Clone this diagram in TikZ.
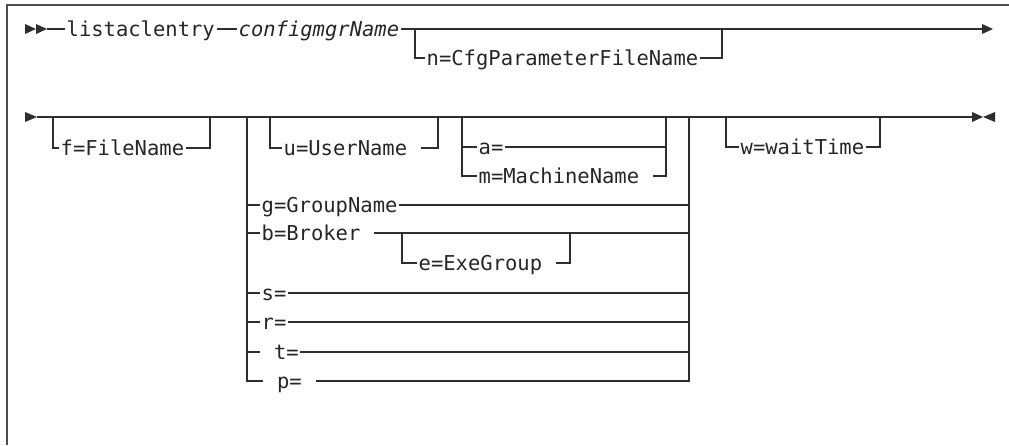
\documentclass[tikz,border=0pt]{standalone}
\usepackage{fontspec}
\newfontfamily\syntaxfont{DejaVu Sans Mono}
\colorlet{rail}{black!82}
\tikzset{
  opt/.style={font=\syntaxfont\fontsize{20.5pt}{24pt}\selectfont, text=black!85,
    inner xsep=1.5pt, inner ysep=0pt, text height=14pt, text depth=0pt, anchor=west},
  railline/.style={draw=rail, line width=1.2pt},
}
\begin{document}
\begin{tikzpicture}[x=1pt, y=-1pt]
		\useasboundingbox (0,0) rectangle (1009,445);

		% Draw the frame
		\draw[black!70, line width=1.6pt] (1009,5) -- (7,5) -- (7,445);

		% First row: command and config manager
		\fill[rail] (25,24) -- (36,29) -- (25,34) -- cycle;
		\fill[rail] (36,24) -- (47,29) -- (36,34) -- cycle;
		\coordinate (start1) at (47,29);
		\coordinate (end1) at (982,29);
		\fill[rail] (982,24) -- (993,29) -- (982,34) -- cycle;
		\node[opt] (cmd) at (65,29) {listaclentry};
		\node[opt] (cfg) at (237,29) {\itshape configmgrName};
		\draw[railline] (start1) -- (cmd.west);
		\draw[railline] (cmd.east) -- (cfg.west);
		\draw[railline] (cfg.east) -- (end1);

		% Optional parameter file
		\coordinate (nL) at (415,29);
		\coordinate (nR) at (722,29);
		\node[opt] (n) at (425,58) {n=CfgParameterFileName};
		\draw[railline] (nL) |- (n.west);
		\draw[railline] (n.east) -| (nR);

		% Second row
		\fill[rail] (25,112) -- (37,117) -- (25,122) -- cycle;
		\coordinate (start2) at (37,117);
		\coordinate (end2) at (972,117);
		\draw[railline] (start2) -- (end2);
		\fill[rail] (972,112) -- (983,117) -- (972,122) -- cycle;
		\fill[rail] (995,112) -- (983,117) -- (995,122) -- cycle;

		% Optional file name
		\coordinate (fL) at (53,117);
		\coordinate (fR) at (210,117);
		\node[opt] (f) at (59,148) {f=FileName};
		\draw[railline] (fL) |- (f.west);
		\draw[railline] (f.east) -| (fR);

		% Group of choices
		\coordinate (grpL) at (247,117);
		\coordinate (grpR) at (689,117);
		\node[opt] (g) at (260,205) {g=GroupName};
		\node[opt] (b) at (260,233) {b=Broker\phantom{x}};
		\node[opt] (s) at (260,293) {s=};
		\node[opt] (r) at (260,322) {r=};
		\node[opt] (t) at (260,352) {\phantom{x}t=};
		\node[opt] (p) at (263,381) {\phantom{x}p=\phantom{x}};
		\draw[railline] (grpL) |- (p.west);
		\draw[railline] (p.east) -| (grpR);
		\foreach \row in {g,b,s,r,t} {
				\draw[railline] (grpL |- \row.west) -- (\row.west);
				\draw[railline] (\row.east) -- (grpR |- \row.east);
			}

		% User name
		\coordinate (uL) at (270,117);
		\coordinate (uR) at (438,117);
		\node[opt] (u) at (282,148) {u=UserName\phantom{x}};
		\draw[railline] (uL) |- (u.west);
		\draw[railline] (u.east) -| (uR);

		% All or machine name
		\coordinate (amL) at (462,117);
		\coordinate (amR) at (666,117);
		\node[opt] (a) at (477,147) {a=};
		\node[opt] (m) at (477,176) {m=MachineName\phantom{x}};
		\draw[railline] (amL) |- (m.west);
		\draw[railline] (m.east) -| (amR);
		\draw[railline] (amL |- a.west) -- (a.west);
		\draw[railline] (a.east) -- (amR |- a.east);

		% Execution group
		\coordinate (eL) at (402,233);
		\coordinate (eR) at (570,233);
		\node[opt] (e) at (417,263) {e=ExeGroup\phantom{x}};
		\draw[railline] (eL) |- (e.west);
		\draw[railline] (e.east) -| (eR);

		% Wait time
		\coordinate (wL) at (726,117);
		\coordinate (wR) at (880,117);
		\node[opt] (w) at (739,147) {w=waitTime};
		\draw[railline] (wL) |- (w.west);
		\draw[railline] (w.east) -| (wR);
	\end{tikzpicture}
\end{document}
